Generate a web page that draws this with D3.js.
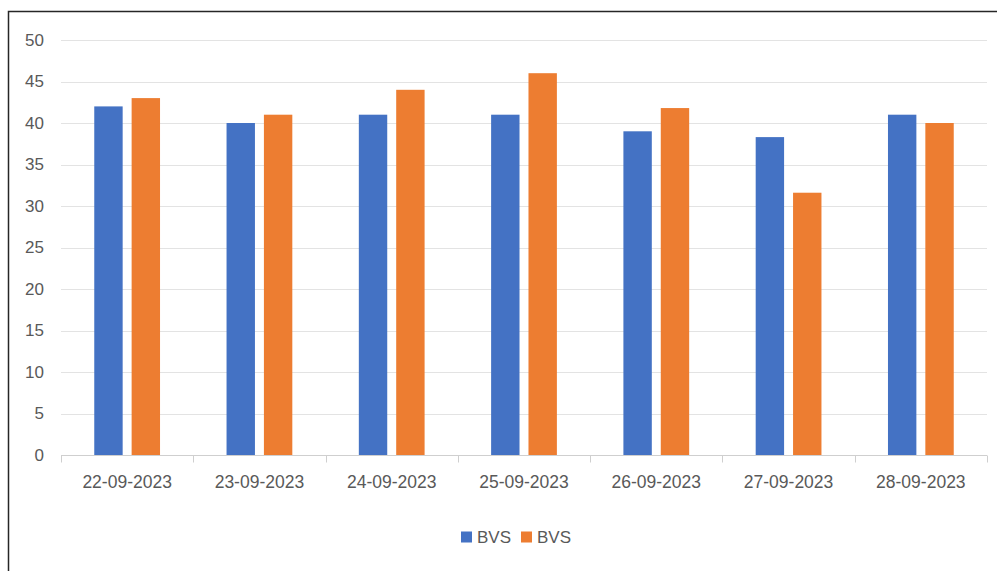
<!DOCTYPE html>
<html>
<head>
<meta charset="utf-8">
<script src="https://cdn.jsdelivr.net/npm/d3@7"></script>
<style>
  html, body { margin: 0; padding: 0; background: #fff; }
  svg { display: block; }
  text { font-family: "Liberation Sans", Arial, sans-serif; fill: #595959; }
</style>
</head>
<body>
<svg id="chart" width="997" height="571"></svg>
<script>
const categories = ["22-09-2023", "23-09-2023", "24-09-2023", "25-09-2023", "26-09-2023", "27-09-2023", "28-09-2023"];
const seriesNames = ["BVS", "BVS"];
const series1 = [42, 40, 41, 41, 39, 38.3, 41];
const series2 = [43, 41, 44, 46, 41.8, 31.6, 40];
const yTicks = [0, 5, 10, 15, 20, 25, 30, 35, 40, 45, 50];
const colors = ["#4472C4", "#ED7D31"];

const svg = d3.select("#chart");
const W = 997, H = 571;
const plot = { left: 61, right: 987, top: 40, bottom: 455 };

// outer border
svg.append("rect")
  .attr("x", 8.5).attr("y", 11.5)
  .attr("width", W + 20).attr("height", H + 20)
  .attr("fill", "none").attr("stroke", "#262626").attr("stroke-width", 1.5);

const x0 = d3.scaleBand().domain(categories).range([plot.left, plot.right]).paddingInner(0).paddingOuter(0);
const x1 = d3.scaleBand().domain([0, 1]).range([0, x0.bandwidth()]).paddingInner(0.24).paddingOuter(0.89);
const y = d3.scaleLinear().domain([0, 50]).range([plot.bottom, plot.top]);

// gridlines
svg.append("g").selectAll("line").data(yTicks.filter(d => d > 0)).join("line")
  .attr("x1", plot.left).attr("x2", plot.right)
  .attr("y1", d => Math.round(y(d)) + 0.5).attr("y2", d => Math.round(y(d)) + 0.5)
  .attr("stroke", "#e3e3e3").attr("stroke-width", 1);

// y labels
svg.append("g").selectAll("text").data(yTicks).join("text")
  .attr("x", 44).attr("y", d => y(d))
  .attr("dy", "0.35em").attr("text-anchor", "end")
  .attr("font-size", 17).text(d => d);

// bars
const data = [series1, series2];
const groups = svg.append("g").selectAll("g").data(categories).join("g")
  .attr("transform", d => `translate(${x0(d)},0)`);
groups.selectAll("rect").data((d, i) => data.map((s, k) => ({ k, v: s[i] }))).join("rect")
  .attr("x", d => x1(d.k)).attr("width", x1.bandwidth())
  .attr("y", d => y(d.v)).attr("height", d => y(0) - y(d.v))
  .attr("fill", d => colors[d.k]);

// x axis
const xAxis = d3.axisBottom(x0).tickSize(0).tickPadding(0);
const ax = svg.append("g").attr("transform", `translate(0,${plot.bottom + 0.5})`);
ax.append("line").attr("x1", plot.left).attr("x2", plot.right).attr("stroke", "#cfcfcf");
const bounds = d3.range(categories.length + 1).map(i => plot.left + i * x0.step());
ax.selectAll("line.tk").data(bounds).join("line").attr("class", "tk")
  .attr("x1", d => Math.round(d) + 0.5).attr("x2", d => Math.round(d) + 0.5)
  .attr("y1", 0).attr("y2", 7).attr("stroke", "#cfcfcf");
ax.selectAll("text.lbl").data(categories).join("text").attr("class", "lbl")
  .attr("x", d => x0(d) + x0.bandwidth() / 2).attr("y", 32)
  .attr("text-anchor", "middle").attr("font-size", 17.5).text(d => d);

// legend
const legend = svg.append("g");
const lx = [461, 521];
seriesNames.forEach((n, i) => {
  legend.append("rect").attr("x", lx[i]).attr("y", 531.5).attr("width", 11).attr("height", 11).attr("fill", colors[i]);
  legend.append("text").attr("x", lx[i] + 16).attr("y", 537).attr("dy", "0.35em")
    .attr("font-size", 17).text(n);
});
</script>
</body>
</html>
